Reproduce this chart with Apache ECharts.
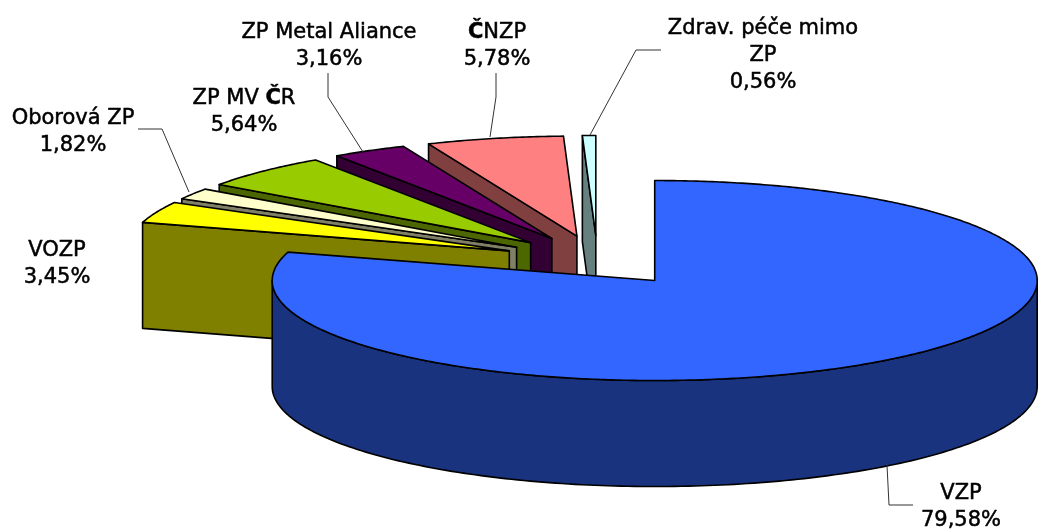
<!DOCTYPE html>
<html><head><meta charset="utf-8">
<style>html,body{margin:0;padding:0;background:#fff}#c{width:1042px;height:531px}</style>
<script src="https://cdn.jsdelivr.net/npm/echarts@6/dist/echarts.min.js"></script></head>
<body><div id="c"></div>
<script>
const names = ['VZP','VOZP','Oborová ZP','ZP MV ČR','ZP Metal Aliance','ČNZP','Zdrav. péče mimo\nZP'];
const values = [79.58,3.45,1.82,5.64,3.16,5.78,0.56];
const topColors = ['#3366FF','#FFFF00','#FFFFCC','#99CC00','#660066','#FF8080','#CCFFFF'];
const wallColors = ['#19337F','#808000','#808066','#4C6600','#330033','#804040','#668080'];

// pie geometry
const PIE = {ox:597.5, oy:260.5, rx:382.5, ry:100, depth:106, explode:0.25};
// label anchors [centre x, first-line y] and leader polylines
const labelPos = [[961,494],[57,251],[73,119],[244,99],[329,33],[497,33],[763,29]];
const leaders = [
  [[887,465],[889,505],[913,505]],
  null,
  [[138,129],[162,129],[189,192]],
  null,
  [[328,73],[328,97],[363,152]],
  [[496,73],[496,97],[490,137]],
  [[661,50],[636,50],[590,135]]
];
const LH = 27;

const total = values.reduce((a,b)=>a+b,0);
const starts = []; let acc = 0;
values.forEach(v=>{starts.push(acc/total*2*Math.PI); acc+=v;});
const pt = (c,t)=>[c[0]+PIE.rx*Math.sin(t), c[1]-PIE.ry*Math.cos(t)];
const down = p=>[p[0],p[1]+PIE.depth];
const line = {stroke:'#000',lineWidth:1.6,lineJoin:'round'};

function renderSlice(params, api){
  const i = api.value(0), v = api.value(1);
  const t0 = starts[i], t1 = t0 + v/total*2*Math.PI, m=(t0+t1)/2;
  const c = [PIE.ox+PIE.explode*PIE.rx*Math.sin(m), PIE.oy-PIE.explode*PIE.ry*Math.cos(m)];
  const children = [];
  const poly = (points,fill)=>children.push({type:'polygon',shape:{points},style:Object.assign({fill},line)});
  // radial wall on the leading edge, when it faces the viewer
  if (Math.sin(t0) < -1e-6) {
    const r = pt(c,t0);
    poly([c,r,down(r),down(c)], wallColors[i]);
  }
  // outer wall: the front half of the rim
  const a0 = Math.max(t0,Math.PI/2), a1 = Math.min(t1,1.5*Math.PI);
  if (a1>a0){
    const upper=[], lower=[];
    for(let k=0;k<=180;k++){const t=a0+(a1-a0)*k/180; const p=pt(c,t); upper.push(p); lower.unshift(down(p));}
    poly(upper.concat(lower), wallColors[i]);
  }
  // top face
  const n = Math.max(4,Math.ceil((t1-t0)/0.01)), top=[c];
  for(let k=0;k<=n;k++) top.push(pt(c,t0+(t1-t0)*k/n));
  poly(top, topColors[i]);
  return {type:'group',children};
}
function renderLabel(params, api){
  const i = api.value(0), children = [];
  const pct = values[i].toFixed(2).replace('.',',')+'%';
  const lines = names[i].split('\n').concat(pct);
  lines.forEach((s,k)=>{
    children.push({type:'text',x:labelPos[i][0],y:labelPos[i][1]+k*LH,style:{
      text:s.replace('Č','{b|Č}'),
      rich:{b:{fontFamily:'DejaVu Sans',fontWeight:'bold',fontSize:21,fill:'#000'}},
      fontFamily:'DejaVu Sans',fontSize:21,fill:'#000',stroke:'#000',lineWidth:0.5,
      align:'center',verticalAlign:'middle'}});
  });
  if (leaders[i]) children.push({type:'polyline',shape:{points:leaders[i]},style:{fill:'none',stroke:'#333',lineWidth:1}});
  return {type:'group',children};
}
const drawOrder = values.map((v,i)=>[i,v]).slice(1).reverse().concat([[0,values[0]]]);
const chart = echarts.init(document.getElementById('c'),null,{renderer:'canvas'});
chart.setOption({
  animation:false,
  backgroundColor:'#fff',
  series:[
    {type:'custom',coordinateSystem:'none',renderItem:renderSlice,data:drawOrder,silent:true,z:2},
    {type:'custom',coordinateSystem:'none',renderItem:renderLabel,data:values.map((v,i)=>[i,v]),silent:true,z:3}
  ]
});
</script></body></html>
